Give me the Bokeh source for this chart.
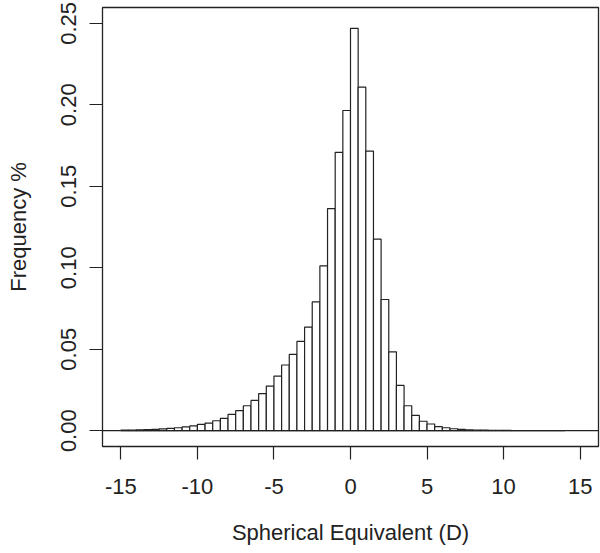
from bokeh.plotting import figure
from bokeh.models import Range1d, FixedTicker, Span, ColumnDataSource
from bokeh.embed import file_html
from bokeh.resources import INLINE

# ---- data ----
bin_start = -15.0
bin_width = 0.5
freq = [
    0.0003, 0.0004, 0.0005, 0.0006, 0.0008, 0.0011, 0.0014, 0.0018, 0.0023, 0.0029,   # -15 .. -10
    0.0039, 0.0047, 0.0061, 0.0076, 0.0100, 0.0123, 0.0153, 0.0186, 0.0227, 0.0274,   # -10 .. -5
    0.0335, 0.0403, 0.0468, 0.0548, 0.0635, 0.0790, 0.1011, 0.1363, 0.1708, 0.1965,   # -5 .. 0
    0.2469, 0.2108, 0.1716, 0.1175, 0.0805, 0.0484, 0.0278, 0.0153, 0.0094, 0.0058,   # 0 .. 5
    0.0041, 0.0025, 0.0018, 0.0012, 0.0008, 0.0005, 0.0004, 0.0003, 0.0002, 0.0002,   # 5 .. 10
    0.0002, 0.0001, 0.0001, 0.0001, 0.0001, 0.0001, 0.0001, 0.0001,                   # 10 .. 14
]
x_ticks = [-15, -10, -5, 0, 5, 10, 15]
x_tick_labels = ["-15", "-10", "-5", "0", "5", "10", "15"]
y_ticks = [0.0, 0.05, 0.10, 0.15, 0.20, 0.25]
y_tick_labels = ["0.00", "0.05", "0.10", "0.15", "0.20", "0.25"]
x_title = "Spherical Equivalent (D)"
y_title = "Frequency %"

left = [bin_start + i * bin_width for i in range(len(freq))]
right = [l + bin_width for l in left]
src = ColumnDataSource(dict(left=left, right=right, top=freq, bottom=[0.0] * len(freq)))

INK = "#222222"
FONT = "Liberation Sans"

p = figure(width=600, height=553, output_backend="svg", toolbar_location=None,
           x_range=Range1d(-16.2, 16.2), y_range=Range1d(-0.0097, 0.2597),
           min_border_left=102, min_border_right=2, min_border_top=7, min_border_bottom=107)
p.background_fill_color = "white"
p.border_fill_color = "white"
p.outline_line_color = INK
p.outline_line_width = 1.3
p.xgrid.visible = False
p.ygrid.visible = False

p.quad(left="left", right="right", top="top", bottom="bottom", source=src,
       fill_color="white", line_color=INK, line_width=1.2)

p.add_layout(Span(location=0, dimension="width", line_color=INK, line_width=1.2))

for ax in (p.xaxis[0], p.yaxis[0]):
    ax.axis_line_color = None
    ax.major_tick_line_color = INK
    ax.major_tick_line_width = 1.2
    ax.major_tick_in = 0
    ax.major_tick_out = 13
    ax.minor_tick_line_color = None
    ax.major_label_text_font = FONT
    ax.major_label_text_font_size = "22px"
    ax.major_label_text_color = INK
    ax.axis_label_text_font = FONT
    ax.axis_label_text_font_size = "22px"
    ax.axis_label_text_font_style = "normal"
    ax.axis_label_text_color = INK

p.xaxis[0].ticker = FixedTicker(ticks=x_ticks)
p.xaxis[0].major_label_overrides = {t: s for t, s in zip(x_ticks, x_tick_labels)}
p.xaxis[0].major_label_standoff = 19
p.xaxis[0].axis_label = x_title
p.xaxis[0].axis_label_standoff = 23

p.yaxis[0].ticker = FixedTicker(ticks=y_ticks)
p.yaxis[0].major_label_overrides = {t: s for t, s in zip(y_ticks, y_tick_labels)}
p.yaxis[0].major_label_orientation = "vertical"
p.yaxis[0].major_label_standoff = 13
p.yaxis[0].axis_label = y_title
p.yaxis[0].axis_label_standoff = 28

open("out.html", "w").write(file_html(p, INLINE))
